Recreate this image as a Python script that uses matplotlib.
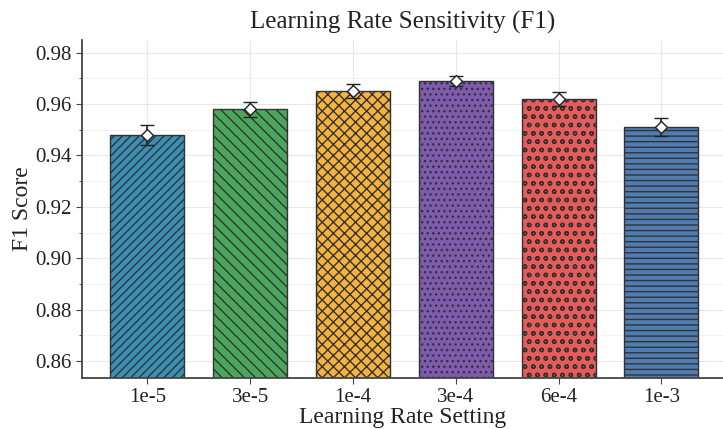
import matplotlib.pyplot as plt
from matplotlib.ticker import MultipleLocator
import numpy as np

plt.rcParams['font.family'] = ['Liberation Serif', 'DejaVu Serif']
plt.rcParams['hatch.linewidth'] = 1.0

lr_labels = ['1e-5', '3e-5', '1e-4', '3e-4', '6e-4', '1e-3']
f1_mean = [0.948, 0.958, 0.965, 0.969, 0.962, 0.951]
f1_std = [0.004, 0.003, 0.0027, 0.002, 0.0028, 0.0035]
colors = ['#3a8fb5', '#4aa65a', '#f5b23f', '#7f5bb0', '#e85b5b', '#4f7db2']
hatches = ['////', '\\\\\\', 'xxx', '...', 'oo', '---']

fig = plt.figure(figsize=(7.23, 4.29), dpi=100)
ax = fig.add_axes([0.113, 0.119, 0.887, 0.788])

x = np.arange(len(lr_labels))
for i in range(len(x)):
    ax.bar(x[i], f1_mean[i], width=0.72, color=colors[i], edgecolor='#333333',
           linewidth=1.0, hatch=hatches[i], zorder=2)

# mean marker with std error bars
ax.errorbar(x, f1_mean, yerr=f1_std, fmt='D', color='#222222', ecolor='#222222',
            markerfacecolor='white', markeredgecolor='#222222', markersize=6.5,
            markeredgewidth=1.0, capsize=5, elinewidth=1.2, capthick=1.2, zorder=4)

ax.set_xlim(-0.64, 5.6)
ax.set_ylim(0.8534, 0.985)
ax.yaxis.set_major_locator(MultipleLocator(0.02))
ax.yaxis.set_minor_locator(MultipleLocator(0.01))
ax.yaxis.set_major_formatter(plt.FormatStrFormatter('%.2f'))
ax.set_xticks(x)
ax.set_xticklabels(lr_labels)

ax.grid(True, which='major', color='#e8e8e8', linewidth=0.8, zorder=0)
ax.grid(True, which='minor', axis='y', color='#f0f0f0', linewidth=0.6, zorder=0)
ax.set_axisbelow(True)

for s in ['top', 'right']:
    ax.spines[s].set_visible(False)
for s in ['left', 'bottom']:
    ax.spines[s].set_color('#444444')
    ax.spines[s].set_linewidth(1.3)

ax.tick_params(axis='both', which='major', labelsize=15, colors='#444444',
               labelcolor='#222222', length=4)
ax.tick_params(axis='y', which='minor', length=2.5, colors='#444444')

ax.set_xlabel('Learning Rate Setting', fontsize=17, labelpad=0, color='#222222')
ax.set_ylabel('F1 Score', fontsize=17, labelpad=1, color='#222222')
ax.set_title('Learning Rate Sensitivity (F1)', fontsize=18, color='#222222', pad=8)

fig.savefig('out.png', dpi=100)
